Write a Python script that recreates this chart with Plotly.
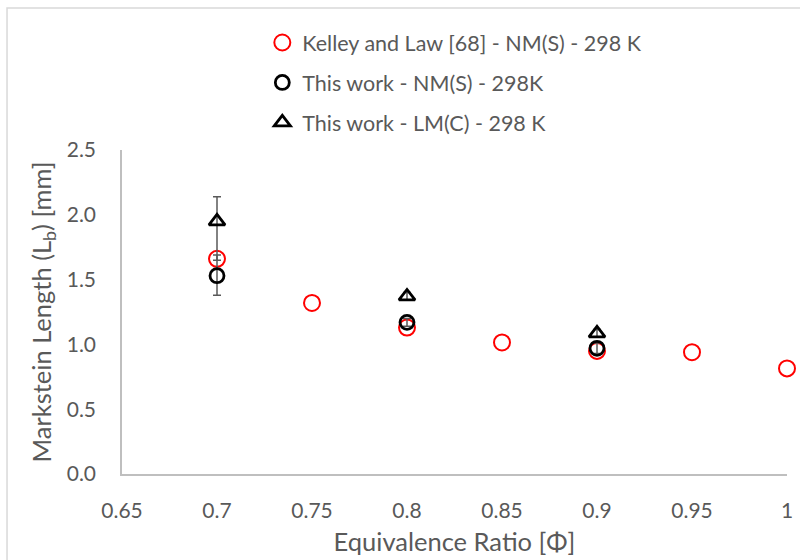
import plotly.graph_objects as go

# Kelley and Law [68] - NM(S) - 298 K
phi_kl = [0.70, 0.75, 0.80, 0.85, 0.90, 0.95, 1.00]
lb_kl = [1.66, 1.32, 1.13, 1.015, 0.95, 0.94, 0.815]

# This work - NM(S) - 298K
phi_nm = [0.70, 0.80, 0.90]
lb_nm = [1.53, 1.17, 0.97]
err_nm_plus = [0.16, 0.03, 0.04]
err_nm_minus = [0.15, 0.03, 0.04]

# This work - LM(C) - 298 K
phi_lm = [0.70, 0.80, 0.90]
lb_lm = [1.95, 1.37, 1.085]
err_lm_plus = [0.19, 0.03, 0.03]
err_lm_minus = [0.30, 0.03, 0.03]

x_ticks = [0.65, 0.7, 0.75, 0.8, 0.85, 0.9, 0.95, 1.0]
x_tick_text = ["0.65", "0.7", "0.75", "0.8", "0.85", "0.9", "0.95", "1"]
y_ticks = [0.0, 0.5, 1.0, 1.5, 2.0, 2.5]
y_tick_text = ["0.0", "0.5", "1.0", "1.5", "2.0", "2.5"]

FONT = "Lato"
TXT = "#595959"
ERR = "#595959"

fig = go.Figure()

fig.add_trace(go.Scatter(
    x=phi_kl, y=lb_kl, mode="markers",
    name="Kelley and Law [68] - NM(S) - 298 K",
    legendgroup="a",
    marker=dict(symbol="circle-open", size=16, color="#ff0000",
                line=dict(width=2, color="#ff0000")),
    cliponaxis=False,
))

fig.add_trace(go.Scatter(
    x=phi_nm, y=lb_nm, mode="markers",
    name="This work - NM(S) - 298K",
    legendgroup="b",
    marker=dict(symbol="circle-open", size=14, color="#000000",
                line=dict(width=2.8, color="#000000")),
    error_y=dict(type="data", symmetric=False, array=err_nm_plus,
                 arrayminus=err_nm_minus, color=ERR, thickness=1.5, width=4),
    cliponaxis=False,
))

fig.add_trace(go.Scatter(
    x=phi_lm, y=lb_lm, mode="markers",
    name="This work - LM(C) - 298 K",
    legendgroup="c",
    marker=dict(symbol="triangle-up-open", size=14, color="#000000",
                line=dict(width=2.8, color="#000000")),
    error_y=dict(type="data", symmetric=False, array=err_lm_plus,
                 arrayminus=err_lm_minus, color=ERR, thickness=1.5, width=4),
    cliponaxis=False,
))

# Outer chart frame
fig.add_shape(type="rect", xref="paper", yref="paper",
              x0=-0.1729, x1=1.2, y0=-0.6, y1=1.438,
              line=dict(color="#d9d9d9", width=1.5), layer="below")

fig.update_layout(
    width=800, height=560,
    margin=dict(l=122, r=13, t=150, b=86, autoexpand=False),
    paper_bgcolor="white", plot_bgcolor="white",
    font=dict(family=FONT, color=TXT, size=21),
    showlegend=True,
    legend=dict(
        x=0.211, y=1.395, xanchor="left", yanchor="top",
        font=dict(family=FONT, size=21.5, color=TXT),
        tracegroupgap=9, bgcolor="rgba(0,0,0,0)",
    ),
    xaxis=dict(
        range=[0.65, 1.0], tickvals=x_ticks, ticktext=x_tick_text,
        showgrid=False, zeroline=False, showline=True, automargin=False,
        linecolor="#bfbfbf", linewidth=1.5, ticks="",
        tickfont=dict(size=21, color=TXT), ticklabelstandoff=17,
        title=dict(text="Equivalence Ratio [Φ]",
                   font=dict(size=25.5, color=TXT), standoff=12),
    ),
    yaxis=dict(
        range=[0, 2.5], tickvals=y_ticks, ticktext=y_tick_text,
        showgrid=False, zeroline=False, showline=True, automargin=False,
        linecolor="#bfbfbf", linewidth=1.5, ticks="",
        tickfont=dict(size=21, color=TXT), ticklabelstandoff=20,
        title=dict(text="Markstein Length (L<sub>b</sub>) [mm]",
                   font=dict(size=25.5, color=TXT), standoff=8),
    ),
)

fig.write_html("out.html")
